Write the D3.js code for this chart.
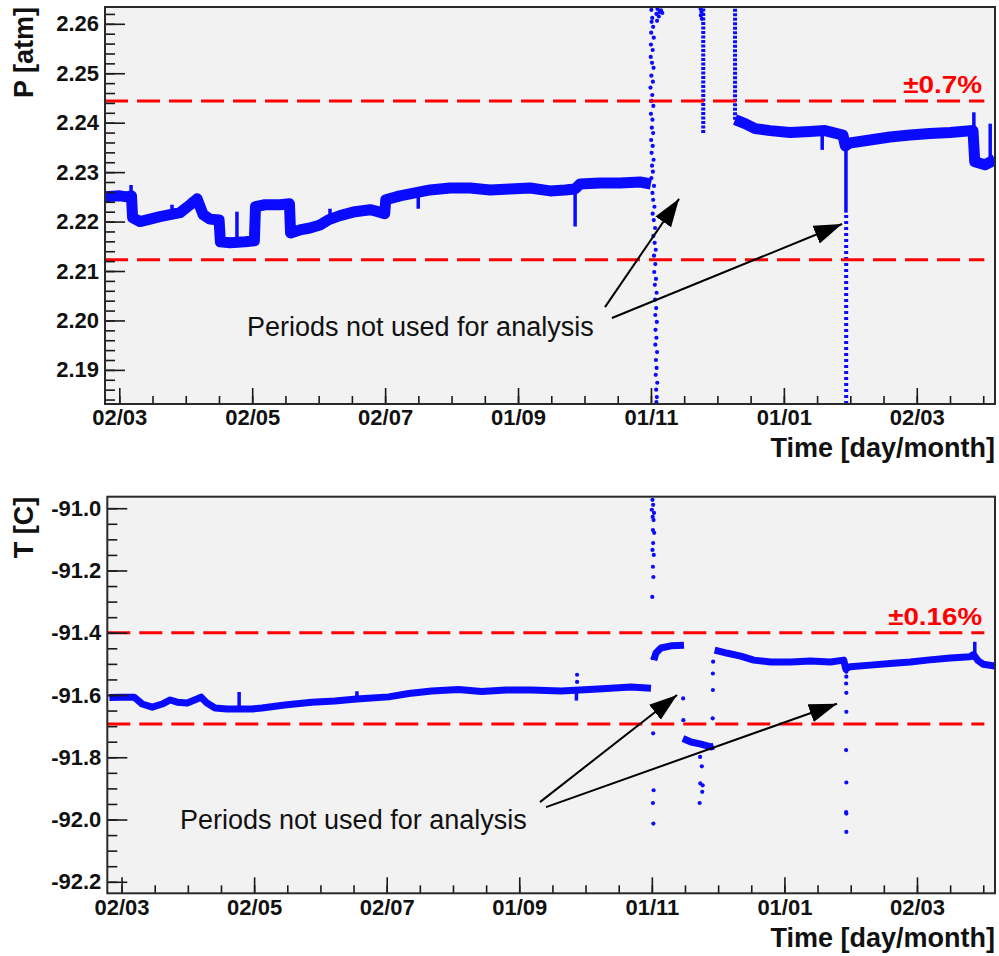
<!DOCTYPE html>
<html lang="en">
<head>
<meta charset="UTF-8">
<title>Pressure and temperature stability</title>
<script src="https://cdn.jsdelivr.net/npm/d3@7"></script>
<style>
  body { margin: 0; background: #fff; }
  svg { display: block; font-family: "Liberation Sans", Arial, Helvetica, sans-serif; }
</style>
</head>
<body>
<script>
// time is counted in days from 02/03/2011
const dayZero = Date.UTC(2011, 2, 2);
const toDate = d => new Date(dayZero + d * 864e5);
const xDays = [-6.56, 401.9];
const tickDates = ["2011-03-02", "2011-05-02", "2011-07-02", "2011-09-01", "2011-11-01", "2012-01-01", "2012-03-02"];

const pTicks = [2.19, 2.20, 2.21, 2.22, 2.23, 2.24, 2.25, 2.26];
const tTicks = [-92.2, -92.0, -91.8, -91.6, -91.4, -91.2, -91.0];

const pLimits = [2.2123, 2.2444];
const tLimits = [-91.693, -91.400];

// pressure [day, atm], stable running periods
const pRun1 = [[-6.6,2.2250],[0.3,2.2252],[3.5,2.2250],[5.6,2.2252],[6.1,2.2208],[9.5,2.2200],[14.1,2.2205],[18.7,2.2210],[23.3,2.2214],[27.9,2.2218],[32.5,2.2234],[35.7,2.2246],[38.5,2.2214],[41.6,2.2205],[45.8,2.2203],[46.4,2.2159],[50.8,2.2157],[57.7,2.2159],[62.0,2.2161],[62.5,2.2230],[66.9,2.2234],[73.8,2.2234],[78.1,2.2236],[78.6,2.2177],[82.9,2.2183],[87.5,2.2187],[92.1,2.2193],[96.2,2.2204],[101.3,2.2212],[108.2,2.2220],[115.1,2.2224],[118.7,2.2220],[121.8,2.2216],[122.3,2.2244],[128.8,2.2252],[135.7,2.2258],[142.6,2.2264],[151.8,2.2268],[161.0,2.2268],[170.2,2.2264],[179.3,2.2266],[188.5,2.2268],[197.7,2.2262],[204.6,2.2264],[209.2,2.2266],[211.5,2.2276],[220.7,2.2278],[229.9,2.2278],[239.0,2.2280],[244.0,2.2276]];
const pRun2 = [[282.6,2.2406],[287.2,2.2398],[291.8,2.2388],[298.7,2.2384],[307.9,2.2380],[317.0,2.2382],[323.9,2.2384],[332.1,2.2375],[333.2,2.2353],[335.3,2.2359],[344.5,2.2365],[353.7,2.2371],[362.9,2.2375],[372.1,2.2378],[381.3,2.2380],[391.8,2.2384],[392.6,2.2321],[397.3,2.2315],[401.9,2.2325]];
// short excursions [day, from, to]
const pSpikes = [[5.4,2.2250,2.2274],[24.2,2.2214,2.2234],[54.0,2.2157,2.2220],[96.7,2.2206,2.2226],[137.2,2.2258,2.2226],[209.2,2.2264,2.2190],[322.6,2.2382,2.2345],[333.5,2.2353,2.2218],[392.2,2.2380,2.2421],[399.7,2.2320,2.2398]];
// dense columns of readings during the excluded periods: [day, low, high]
const pGaps = [[268.0,2.2379,2.2634],[282.6,2.2406,2.2634],[333.6,2.1831,2.2218]];
// scattered single readings [day, atm]
const pDots = [[244.2,2.2628],[247.0,2.2630],[248.0,2.2624],[246.5,2.2620],[247.6,2.2615],[249.2,2.2622],[248.6,2.2627],[244.6,2.2612],[246.8,2.2606],[244.3,2.2604],[245.0,2.2594],[244.1,2.2582],[245.3,2.2572],[244.0,2.2558],[244.8,2.2547],[243.9,2.2533],[244.5,2.2521],[245.2,2.2511],[244.2,2.2495],[244.9,2.2483],[243.8,2.2471],[244.6,2.2456],[244.3,2.2444],[245.1,2.2434],[244.0,2.2418],[244.7,2.2406],[244.4,2.2390],[245.0,2.2379],[244.1,2.2365],[244.8,2.2353],[244.3,2.2339],[245.2,2.2325],[244.5,2.2313],[244.9,2.2301],[244.2,2.2288],[245.4,2.2272],[244.7,2.2258],[245.0,2.2244],[245.6,2.2230],[244.8,2.2216],[245.3,2.2203],[245.9,2.2187],[245.1,2.2171],[245.7,2.2157],[246.2,2.2143],[245.4,2.2131],[246.0,2.2114],[245.5,2.2098],[246.3,2.2084],[245.8,2.2072],[246.6,2.2056],[245.9,2.2042],[246.4,2.2025],[246.0,2.2011],[246.7,2.1997],[246.1,2.1981],[246.5,2.1965],[246.0,2.1951],[246.8,2.1936],[246.3,2.1920],[246.6,2.1904],[246.2,2.1890],[246.9,2.1874],[246.4,2.1860],[246.7,2.1845],[246.5,2.1835],[266.8,2.2630],[267.2,2.2624],[266.9,2.2617],[267.4,2.2610]];

// temperature [day, C]
const tRun1 = [[-5.6,-91.608],[0.3,-91.607],[5.8,-91.607],[9.5,-91.629],[14.1,-91.639],[18.7,-91.629],[22.4,-91.616],[25.6,-91.623],[30.2,-91.626],[34.7,-91.613],[36.6,-91.607],[39.3,-91.626],[43.0,-91.642],[48.5,-91.645],[60.0,-91.645],[64.6,-91.642],[75.1,-91.632],[87.5,-91.623],[98.1,-91.619],[108.2,-91.613],[122.9,-91.606],[132.1,-91.595],[142.7,-91.587],[155.0,-91.582],[165.6,-91.589],[177.0,-91.584],[188.5,-91.584],[202.3,-91.587],[219.3,-91.581],[234.4,-91.574],[243.6,-91.578]];
const tRun2 = [[244.9,-91.488],[245.9,-91.465],[248.2,-91.449],[252.8,-91.442],[258.8,-91.440]];
const tRun3 = [[258.3,-91.740],[262.0,-91.751],[266.6,-91.758],[271.2,-91.767],[272.5,-91.764]];
const tRun4 = [[272.9,-91.456],[278.9,-91.466],[284.9,-91.475],[290.9,-91.488],[298.7,-91.494],[307.9,-91.494],[317.0,-91.491],[326.2,-91.494],[332.3,-91.488],[333.2,-91.516],[335.3,-91.509],[344.5,-91.504],[355.1,-91.498],[362.9,-91.494],[370.7,-91.488],[381.3,-91.481],[390.4,-91.477],[392.0,-91.470],[394.2,-91.490],[396.4,-91.501],[401.9,-91.507]];
const tSpikes = [[54.1,-91.645,-91.590],[108.3,-91.613,-91.588],[209.3,-91.587,-91.618],[392.6,-91.470,-91.429]];
const tDots = [[244.3,-90.973],[244.6,-90.989],[244.0,-91.005],[245.0,-91.015],[244.4,-91.028],[244.8,-91.038],[244.5,-91.070],[245.1,-91.079],[244.6,-91.112],[244.3,-91.134],[244.9,-91.150],[244.5,-91.188],[244.7,-91.221],[244.2,-91.285],[244.4,-91.482],[244.6,-91.723],[244.8,-91.906],[244.5,-91.947],[244.7,-92.013],[209.6,-91.535],[209.6,-91.558],[258.4,-91.611],[258.5,-91.681],[266.2,-91.799],[267.0,-91.829],[266.3,-91.884],[267.4,-91.890],[267.2,-91.911],[266.0,-91.947],[272.0,-91.675],[272.1,-91.584],[272.1,-91.531],[272.2,-91.493],[333.5,-91.525],[333.5,-91.541],[333.4,-91.563],[333.5,-91.593],[333.5,-91.654],[333.4,-91.777],[333.5,-91.881],[333.4,-91.976],[333.5,-91.981],[333.5,-92.040]];

// annotations: text anchor and arrows [fromDay, fromVal, toDay, toVal]
const note = "Periods not used for analysis";
const pNoteAt = [58.6, 2.1969];
const pArrows = [[222.9,2.2027,256.9,2.2246],[226.1,2.2005,331.7,2.2195]];
const tNoteAt = [26.9, -92.029];
const tArrows = [[192.5,-91.944,255.6,-91.600],[195.3,-91.960,329.2,-91.628]];

const blue = "#0a0aff";
const W = 999, H = 956;

const svg = d3.select("body").append("svg").attr("width", W).attr("height", H);
svg.append("rect").attr("width", W).attr("height", H).attr("fill", "#fff");
const defs = svg.append("defs");
defs.append("marker")
    .attr("id", "head")
    .attr("markerUnits", "userSpaceOnUse")
    .attr("viewBox", "0 -10 28 20")
    .attr("markerWidth", 28).attr("markerHeight", 20)
    .attr("refX", 28).attr("refY", 0)
    .attr("orient", "auto")
  .append("path")
    .attr("d", "M0,-9.5L28,0L0,9.5Z")
    .attr("fill", "#000");

function drawPanel(p) {
    const x = d3.scaleUtc().domain(xDays.map(toDate)).range([p.left, p.right]);
    const y = d3.scaleLinear().domain(p.yDomain).range([p.bottom, p.top]);
    const g = svg.append("g");

    g.append("rect")
        .attr("x", p.left).attr("y", p.top)
        .attr("width", p.right - p.left).attr("height", p.bottom - p.top)
        .attr("fill", "#f2f2f2");

    defs.append("clipPath").attr("id", p.id + "-clip")
      .append("rect")
        .attr("x", p.left).attr("y", p.top)
        .attr("width", p.right - p.left).attr("height", p.bottom - p.top);
    const plot = g.append("g").attr("clip-path", `url(#${p.id}-clip)`);

    // dotted columns
    plot.selectAll(".gap").data(p.gaps).join("line")
        .attr("x1", d => x(toDate(d[0]))).attr("x2", d => x(toDate(d[0])))
        .attr("y1", d => y(d[1])).attr("y2", d => y(d[2]))
        .attr("stroke", blue).attr("stroke-width", 4)
        .attr("stroke-dasharray", (d, i) => p.gapDash[i]);

    const line = d3.line()
        .x(d => x(toDate(d[0])))
        .y(d => y(d[1]));

    plot.selectAll(".run").data(p.runs).join("path")
        .attr("d", line)
        .attr("fill", "none")
        .attr("stroke", blue)
        .attr("stroke-width", p.band)
        .attr("stroke-linejoin", "round");

    plot.selectAll(".spike").data(p.spikes).join("line")
        .attr("x1", d => x(toDate(d[0]))).attr("x2", d => x(toDate(d[0])))
        .attr("y1", d => y(d[1])).attr("y2", d => y(d[2]))
        .attr("stroke", blue).attr("stroke-width", 3.5);

    plot.selectAll(".dot").data(p.dots).join("circle")
        .attr("cx", d => x(toDate(d[0])))
        .attr("cy", d => y(d[1]))
        .attr("r", 2.1)
        .attr("fill", blue);

    // tolerance band
    plot.selectAll(".limit").data(p.limits).join("line")
        .attr("x1", p.left).attr("x2", x(toDate(397)))
        .attr("y1", d => y(d)).attr("y2", d => y(d))
        .attr("stroke", "#ff0000").attr("stroke-width", 3)
        .attr("stroke-dasharray", "23,9");

    g.append("text")
        .attr("x", x(toDate(396))).attr("y", y(p.limits[1]) - 8)
        .attr("text-anchor", "end")
        .attr("font-size", 24).attr("font-weight", "bold")
        .attr("fill", "#ff0000")
        .attr("textLength", p.labelLen).attr("lengthAdjust", "spacingAndGlyphs")
        .text(p.limitLabel);

    // annotation
    g.append("text")
        .attr("x", x(toDate(p.noteAt[0]))).attr("y", y(p.noteAt[1]))
        .attr("font-size", 27).attr("fill", "#111")
        .text(note);

    g.selectAll(".arrow").data(p.arrows).join("line")
        .attr("x1", d => x(toDate(d[0]))).attr("y1", d => y(d[1]))
        .attr("x2", d => x(toDate(d[2]))).attr("y2", d => y(d[3]))
        .attr("stroke", "#000").attr("stroke-width", 2)
        .attr("marker-end", "url(#head)");

    // axes: ticks point into the frame
    const yMinor = g.append("g").attr("transform", `translate(${p.left},0)`)
        .call(d3.axisRight(y).tickValues(p.minorY).tickSize(10).tickFormat(""));
    const yMajor = g.append("g").attr("transform", `translate(${p.left},0)`)
        .call(d3.axisRight(y).tickValues(p.ticks).tickSize(20).tickFormat(""));
    const yLab = g.append("g").attr("transform", `translate(${p.left},0)`)
        .call(d3.axisLeft(y).tickValues(p.ticks).tickSize(0).tickPadding(6).tickFormat(p.fmt));

    const minorX = d3.range(-1, 27).map(i => i * 15.25).filter(d => d >= xDays[0] && d <= xDays[1]).map(toDate);
    const dates = tickDates.map(s => new Date(s + "T00:00:00Z"));
    const xMinor = g.append("g").attr("transform", `translate(0,${p.bottom})`)
        .call(d3.axisTop(x).tickValues(minorX).tickSize(8).tickFormat(""));
    const xMajor = g.append("g").attr("transform", `translate(0,${p.bottom})`)
        .call(d3.axisTop(x).tickValues(dates).tickSize(16).tickFormat(""));
    const xLab = g.append("g").attr("transform", `translate(0,${p.bottom})`)
        .call(d3.axisBottom(x).tickValues(dates).tickSize(0).tickPadding(p.xPad).tickFormat(d3.utcFormat("%d/%m")));

    [yMinor, yMajor, yLab, xMinor, xMajor, xLab].forEach(a => {
        a.attr("font-family", null).attr("font-size", null).attr("color", "#1a1a1a");
        a.select(".domain").remove();
        a.selectAll("line").attr("stroke-width", 1.6);
        a.selectAll("text").attr("font-size", 22).attr("font-weight", "bold").attr("fill", "#111");
    });

    g.append("rect")
        .attr("x", p.left).attr("y", p.top)
        .attr("width", p.right - p.left).attr("height", p.bottom - p.top)
        .attr("fill", "none").attr("stroke", "#2a2a2a").attr("stroke-width", 2);

    // titles
    g.append("text")
        .attr("transform", `translate(33,${p.top}) rotate(-90)`)
        .attr("text-anchor", "end")
        .attr("font-size", 27).attr("font-weight", "bold").attr("fill", "#111")
        .text(p.yTitle);

    g.append("text")
        .attr("x", p.right).attr("y", p.bottom + p.titleDrop)
        .attr("text-anchor", "end")
        .attr("font-size", 27).attr("font-weight", "bold").attr("fill", "#111")
        .text("Time [day/month]");
}

drawPanel({
    id: "pressure",
    left: 105, right: 995, top: 7, bottom: 404,
    yDomain: [2.1831, 2.2634],
    ticks: pTicks,
    minorY: d3.range(1092, 1132).map(i => i * 0.002),
    fmt: d => d.toFixed(2),
    runs: [pRun1, pRun2],
    spikes: pSpikes,
    gaps: pGaps,
    gapDash: ["3,1.5", "3,1.5", "3,3"],
    dots: pDots,
    band: 11,
    limits: pLimits,
    limitLabel: "±0.7%",
    labelLen: 79,
    noteAt: pNoteAt,
    arrows: pArrows,
    yTitle: "P [atm]",
    xPad: 5.5,
    titleDrop: 53
});

drawPanel({
    id: "temperature",
    left: 107.3, right: 995, top: 496.7, bottom: 893.3,
    yDomain: [-92.237, -90.963],
    ticks: tTicks,
    minorY: d3.range(-1844, -1819).map(i => i * 0.05),
    fmt: d => d.toFixed(1),
    runs: [tRun1, tRun2, tRun3, tRun4],
    spikes: tSpikes,
    gaps: [],
    gapDash: [],
    dots: tDots,
    band: 7,
    limits: tLimits,
    limitLabel: "±0.16%",
    labelLen: 94,
    noteAt: tNoteAt,
    arrows: tArrows,
    yTitle: "T [C]",
    xPad: 6,
    titleDrop: 53.4
});
</script>
</body>
</html>
